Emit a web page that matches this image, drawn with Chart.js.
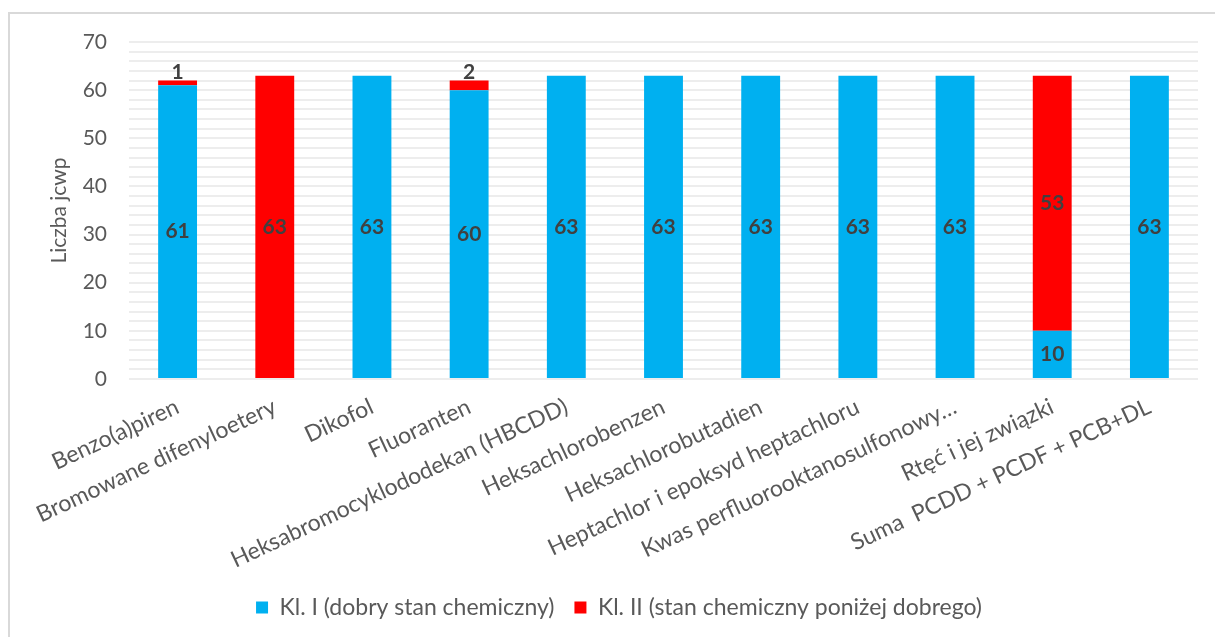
<!DOCTYPE html>
<html lang="pl">
<head>
<meta charset="utf-8">
<title>Stan chemiczny jcwp</title>
<script src="https://cdn.jsdelivr.net/npm/chart.js@4.4.1/dist/chart.umd.min.js"></script>
<style>
  html, body { margin: 0; padding: 0; background: #fff; }
  #frame {
    position: absolute; left: 8px; top: 12px; width: 1220px; height: 640px;
    border-left: 2px solid #d9d9d9; border-top: 2px solid #d9d9d9;
  }
  #wrap { position: absolute; left: 0; top: 0; width: 1215px; height: 637px; }
</style>
</head>
<body>
<div id="frame"></div>
<div id="wrap"><canvas id="chart"></canvas></div>
<script>
// Data
const categories = [
  "Benzo(a)piren",
  "Bromowane difenyloetery",
  "Dikofol",
  "Fluoranten",
  "Heksabromocyklododekan (HBCDD)",
  "Heksachlorobenzen",
  "Heksachlorobutadien",
  "Heptachlor i epoksyd heptachloru",
  "Kwas perfluorooktanosulfonowy\u2026",
  "Rtęć i jej związki",
  "Suma  PCDD + PCDF + PCB+DL"
];
const klasa1 = [61, 0, 63, 60, 63, 63, 63, 63, 63, 10, 63];
const klasa2 = [1, 63, 0, 2, 0, 0, 0, 0, 0, 53, 0];
const seriesNames = ["Kl. I (dobry stan chemiczny)", "Kl. II (stan chemiczny poniżej dobrego)"];
const yTickLabels = [0, 10, 20, 30, 40, 50, 60, 70];

const FONT = "Lato, 'Liberation Sans', sans-serif";

// values written inside/above each bar segment
const valueLabels = {
  id: 'valueLabels',
  afterDatasetsDraw(chart) {
    const ctx = chart.ctx;
    ctx.save();
    ctx.font = "bold 21px " + FONT;
    ctx.fillStyle = '#404040';
    ctx.textAlign = 'center';
    ctx.textBaseline = 'middle';
    chart.data.datasets.forEach((ds, i) => {
      const meta = chart.getDatasetMeta(i);
      meta.data.forEach((bar, j) => {
        const v = ds.data[j];
        if (!v) return;
        const h = Math.abs(bar.base - bar.y);
        let y = (bar.y + bar.base) / 2;
        if (h < 20) y = bar.y - 8;
        ctx.fillText(String(v), bar.x, y);
      });
    });
    ctx.restore();
  }
};

new Chart(document.getElementById('chart').getContext('2d'), {
  type: 'bar',
  data: {
    labels: categories,
    datasets: [
      { label: seriesNames[0], data: klasa1, backgroundColor: '#00B0F0' },
      { label: seriesNames[1], data: klasa2, backgroundColor: '#FF0000' }
    ]
  },
  options: {
    responsive: true,
    maintainAspectRatio: false,
    animation: false,
    events: [],
    categoryPercentage: 1,
    barPercentage: 0.4,
    layout: { padding: { left: 40, right: 17, top: 42, bottom: 8 } },
    plugins: {
      legend: {
        position: 'bottom',
        labels: {
          font: { family: FONT, size: 23 },
          color: '#595959',
          boxWidth: 12,
          boxHeight: 12,
          padding: 20
        }
      },
      tooltip: { enabled: false }
    },
    scales: {
      x: {
        stacked: true,
        grid: { display: false },
        border: { display: false },
        ticks: {
          font: { family: FONT, size: 23 },
          color: '#595959',
          minRotation: 25,
          maxRotation: 25,
          autoSkip: false,
          padding: 6
        },
        afterFit(scale) { scale.height = 197; }
      },
      y: {
        stacked: true,
        min: 0,
        max: 70,
        grid: { color: '#ededed', lineWidth: 2, drawTicks: false },
        border: { display: false },
        ticks: {
          stepSize: 2,
          autoSkip: false,
          padding: 22,
          font: { family: FONT, size: 21 },
          color: '#595959',
          callback: v => yTickLabels.includes(v) ? v : ''
        },
        title: {
          display: true,
          text: 'Liczba jcwp',
          font: { family: FONT, size: 21 },
          color: '#595959',
          padding: { top: 7, bottom: 0 }
        },
        afterFit(scale) { scale.width = 89; }
      }
    }
  },
  plugins: [valueLabels]
});
</script>
</body>
</html>
